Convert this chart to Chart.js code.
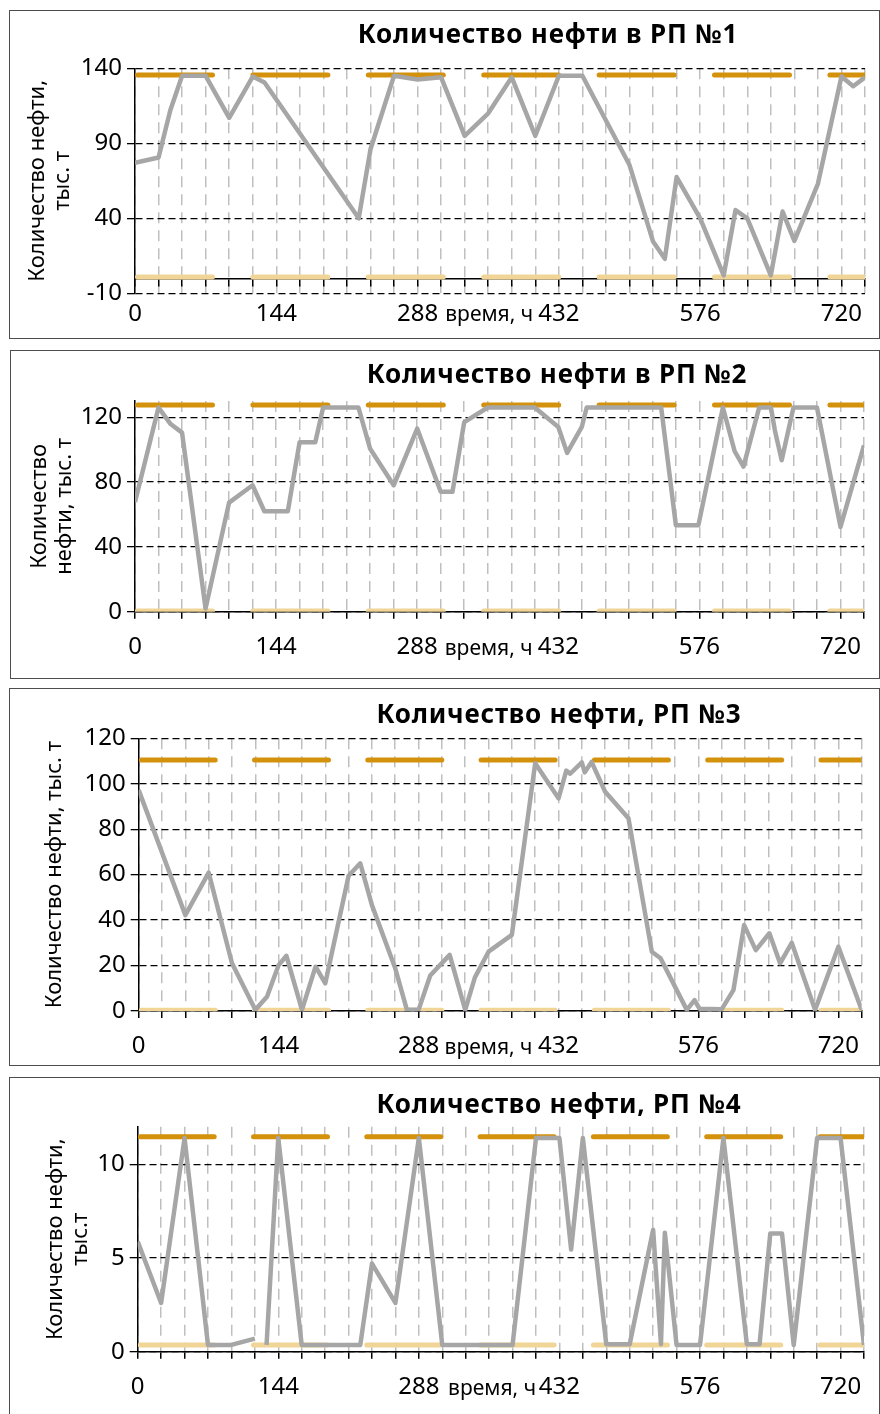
<!DOCTYPE html>
<html lang="ru">
<head>
<meta charset="utf-8">
<title>Количество нефти в РП</title>
<script src="https://cdn.jsdelivr.net/npm/chart.js@4.4.1/dist/chart.umd.min.js"></script>
<style>
  html, body { margin: 0; padding: 0; background: #fff; }
  body { width: 880px; height: 1414px; position: relative; overflow: hidden; font-family: "Noto Sans", sans-serif; }
  .panel { position: absolute; box-sizing: border-box; border: 1px solid #4d4d4d; background: #fff; }
  .panel canvas { position: absolute; left: 0; top: 0; }
  .ttl { position: absolute; transform: translate(-50%, -50%); font-weight: bold; font-size: 26px; letter-spacing: 0.8px; white-space: nowrap; color: #000; z-index: 2; }
</style>
</head>
<body>

<div class="panel" id="p1" style="left:9px;top:10px;width:871px;height:329px">
  <div class="ttl" style="left:538px;top:22px">Количество нефти в РП №1</div>
  <canvas id="c1" width="869" height="327"></canvas>
</div>
<div class="panel" id="p2" style="left:10px;top:350px;width:870px;height:329px">
  <div class="ttl" style="left:546px;top:22px">Количество нефти в РП №2</div>
  <canvas id="c2" width="868" height="327"></canvas>
</div>
<div class="panel" id="p3" style="left:9px;top:688px;width:871px;height:378px">
  <div class="ttl" style="left:549px;top:24px">Количество нефти, РП №3</div>
  <canvas id="c3" width="869" height="376"></canvas>
</div>
<div class="panel" id="p4" style="left:9px;top:1077px;width:871px;height:350px">
  <div class="ttl" style="left:549px;top:25px">Количество нефти, РП №4</div>
  <canvas id="c4" width="869" height="348"></canvas>
</div>

<script>
// time axis, hours
const xTickHours = [0, 24, 48, 72, 96, 120, 144, 168, 192, 216, 240, 264, 288, 312, 336, 360,
  384, 408, 432, 456, 480, 504, 528, 552, 576, 600, 624, 648, 672, 696, 720, 744];
const xLabelHours = [0, 144, 288, 432, 576, 720];

// РП №1
const rp1Hours = [0, 24, 36, 48, 72, 96, 120, 132, 228, 240, 264, 288, 312, 336, 360, 384, 408, 432,
  456, 468, 504, 528, 540, 552, 576, 600, 612, 624, 648, 660, 672, 696, 720, 732, 744];
const rp1Oil = [77, 80.5, 112, 135, 135, 107, 134.5, 130.5, 40, 86, 135, 132.5, 134, 95, 110, 134, 95, 135,
  135, 120, 75.5, 24.5, 13, 67.5, 40, 2, 45.5, 40, 2, 44.5, 25, 63, 134.5, 128, 134];
const rp1YTicks = [-10, 40, 90, 140];

// РП №2
const rp2Hours = [0, 24, 36, 48, 72, 96, 120, 132, 156, 168, 184, 192, 228, 240, 264, 288, 312, 324, 336,
  360, 408, 432, 441, 456, 461, 537, 552, 575, 600, 612, 621, 637, 649, 653, 660, 672, 696, 720, 744];
const rp2Oil = [67.7, 126, 116, 110.5, 2, 67.3, 78, 62, 62, 104.6, 104.6, 126, 126, 100.5, 78, 113, 74, 74, 117,
  126, 126, 114, 98, 114, 126, 126, 53.4, 53.4, 126, 99, 89.5, 126, 126, 112, 93.4, 126, 126, 52.3, 102.6];
const rp2YTicks = [0, 40, 80, 120];

// РП №3
const rp3Hours = [0, 48, 72, 96, 120, 132, 144, 152, 168, 182, 192, 216, 228, 240, 264, 276, 288, 300, 320,
  336, 346, 360, 384, 408, 432, 440, 444, 456, 459, 466, 480, 504, 528, 537, 564, 572, 577, 600, 612, 623,
  635, 649, 660, 672, 696, 720, 744];
const rp3Oil = [97.2, 42.2, 60.9, 21, 0.5, 6.3, 20.2, 24.3, 0.5, 19.5, 12.2, 59.5, 65, 46.6, 18.8, 0.5, 0.5, 15.6, 24.7,
  0.5, 14.8, 26.1, 33.5, 109, 93.6, 105.8, 104.4, 109.4, 105, 109.6, 96.5, 84.8, 26.1, 23.2, 0.5, 4.8, 1, 0.8, 9.2, 37.8,
  26.8, 34.2, 21, 30, 0.5, 28.3, 0.5];
const rp3YTicks = [0, 20, 40, 60, 80, 100, 120];

// РП №4 (null = разрыв ряда)
const rp4Hours = [0, 24, 48, 72, 96, 120, 126, 132, 144, 168, 228, 240, 264, 288, 312, 348, 384, 408, 432,
  444, 456, 480, 504, 528, 536, 540, 552, 576, 600, 624, 637, 648, 660, 672, 696, 720, 744];
const rp4Oil = [5.87, 2.6, 11.4, 0.36, 0.36, 0.7, null, 0.36, 11.4, 0.36, 0.36, 4.7, 2.6, 11.4, 0.36, 0.36, 0.36, 11.4, 11.4,
  5.45, 11.4, 0.4, 0.4, 6.5, 0.4, 6.35, 0.36, 0.36, 11.4, 0.4, 0.4, 6.3, 6.3, 0.36, 11.4, 11.4, 0.36];
const rp4YTicks = [0, 5, 10];

// max / min levels of each РП
const levelHigh = [135.5, 127.5, 110.5, 11.47];
const levelLow = [0.8, 0.4, 0.3, 0.36];

const FONT = '"Noto Sans", "Open Sans", sans-serif';
Chart.defaults.font.family = FONT;
Chart.defaults.color = '#000';

// "время, ч" sits in the tick label row
const axisNote = {
    id: 'axisNote',
    afterDraw(chart, args, opts) {
        const ctx = chart.ctx;
        const x = chart.scales.x.getPixelForValue(opts.at);
        const y = chart.scales.y.getPixelForValue(0) + 37;
        ctx.save();
        ctx.font = '21px ' + FONT;
        ctx.fillStyle = '#000';
        ctx.textAlign = 'center';
        ctx.textBaseline = 'middle';
        ctx.fillText('время, ч', x, y);
        ctx.restore();
    }
};

function levelLine(value, color, dash) {
    return {
        data: [{x: 0, y: value}, {x: 744, y: value}],
        borderColor: color,
        borderWidth: 5,
        borderDash: dash,
        borderDashOffset: -2.5,
        borderCapStyle: 'round',
        pointRadius: 0,
        order: 1
    };
}

function makeChart(id, p) {
    const ctx = document.getElementById(id).getContext('2d');
    return new Chart(ctx, {
        type: 'line',
        data: {
            datasets: [
                {
                    label: 'oil',
                    data: p.hours.map((h, i) => ({x: h, y: p.values[i]})),
                    borderColor: '#A6A6A6',
                    borderWidth: 4.5,
                    borderJoinStyle: 'round',
                    pointRadius: 0,
                    tension: 0,
                    spanGaps: false,
                    order: 0
                },
                levelLine(p.high, '#D4910B', p.dash),
                levelLine(p.low, '#F0D596', p.dash)
            ]
        },
        options: {
            responsive: false,
            animation: false,
            events: [],
            layout: {
                padding: {
                    top: p.inset.top,
                    right: p.inset.right,
                    left: 0,
                    // an axis placed at y = 0 does not take room in the layout
                    bottom: p.xAtZero ? p.inset.bottom : 0
                }
            },
            plugins: {
                legend: { display: false },
                tooltip: { enabled: false },
                axisNote: { at: p.noteAt }
            },
            scales: {
                x: {
                    type: 'linear',
                    min: 0,
                    max: 744,
                    position: p.xAtZero ? { y: 0 } : 'bottom',
                    afterBuildTicks: s => { s.ticks = xTickHours.map(v => ({value: v})); },
                    afterFit: s => { s.height = p.xAtZero ? 0 : p.inset.bottom; },
                    ticks: {
                        autoSkip: false,
                        maxRotation: 0,
                        padding: 14,
                        font: { size: 24 },
                        callback: v => xLabelHours.includes(v) ? String(v) : ''
                    },
                    grid: { color: '#BFBFBF', lineWidth: 1.5, tickColor: '#000', tickLength: 7, tickWidth: 1.5 },
                    border: { display: true, color: '#000', width: 1.5, dash: [11, 7] }
                },
                y: {
                    min: p.yMin,
                    max: p.yMax,
                    afterBuildTicks: s => { s.ticks = p.yTicks.map(v => ({value: v})); },
                    afterFit: s => { s.width = p.inset.left; },
                    ticks: { padding: 5, font: { size: 24 } },
                    grid: { color: '#000', lineWidth: 1.3, tickColor: '#000', tickLength: 8, tickWidth: 1.3 },
                    border: { display: true, color: '#000', width: 1.5, dash: [7, 4] },
                    title: {
                        display: true,
                        text: p.yTitle,
                        font: { size: 22, lineHeight: 1.1 },
                        padding: { top: p.titlePad, bottom: 0 }
                    }
                }
            }
        },
        plugins: [axisNote]
    });
}

makeChart('c1', {
    hours: rp1Hours, values: rp1Oil, high: levelHigh[0], low: levelLow[0],
    yMin: -10, yMax: 140, yTicks: rp1YTicks, xAtZero: true,
    yTitle: ['Количество нефти,', 'тыс. т'], titlePad: 16, noteAt: 361,
    dash: [75, 40.4], inset: { left: 125, right: 14, top: 57.3, bottom: 44.7 }
});
makeChart('c2', {
    hours: rp2Hours, values: rp2Oil, high: levelHigh[1], low: levelLow[1],
    yMin: 0, yMax: 130, yTicks: rp2YTicks, xAtZero: false,
    yTitle: ['Количество', 'нефти, тыс. т'], titlePad: 17, noteAt: 361,
    dash: [75, 40.4], inset: { left: 124, right: 15, top: 50, bottom: 66.3 }
});
makeChart('c3', {
    hours: rp3Hours, values: rp3Oil, high: levelHigh[2], low: levelLow[2],
    yMin: 0, yMax: 120, yTicks: rp3YTicks, xAtZero: false,
    yTitle: 'Количество нефти, тыс. т', titlePad: 33, noteAt: 360,
    dash: [74, 39.3], inset: { left: 128.7, right: 17.3, top: 49.3, bottom: 54 }
});
makeChart('c4', {
    hours: rp4Hours, values: rp4Oil, high: levelHigh[3], low: levelLow[3],
    yMin: 0, yMax: 12, yTicks: rp4YTicks, xAtZero: false,
    yTitle: ['Количество нефти,', 'тыс.т'], titlePad: 34, noteAt: 363,
    dash: [74, 39.3], inset: { left: 127.7, right: 15, top: 48.7, bottom: 74.3 }
});
</script>
</body>
</html>
